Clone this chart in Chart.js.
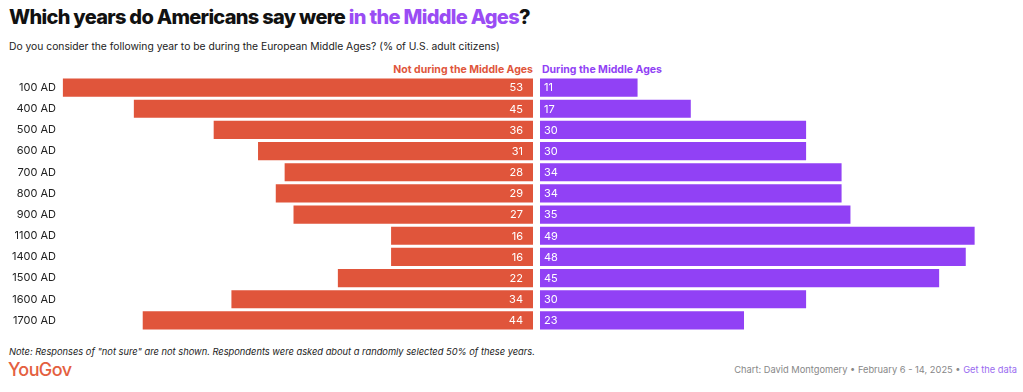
<!DOCTYPE html>
<html>
<head>
<meta charset="utf-8">
<script src="https://cdn.jsdelivr.net/npm/chart.js@4"></script>
<style>
  body { margin: 0; background: #fff; font-family: Inter, "Noto Sans", sans-serif; width: 1023px; height: 392px; overflow: hidden; position: relative; }
  .abs { position: absolute; white-space: nowrap; }
  #title { left: 9px; top: 5px; font-size: 20px; font-weight: 800; color: #111; letter-spacing: -0.7px; }
  #title span { color: #9a4cf4; }
  #sub { left: 9px; top: 40px; font-size: 10.3px; color: #222; }
  #hdrL { right: 490px; top: 63px; font-size: 10.5px; font-weight: 700; color: #e0553b; }
  #hdrR { left: 542px; top: 63px; font-size: 10.5px; font-weight: 700; color: #9141f5; }
  #note { left: 9px; top: 346px; font-size: 9.3px; font-style: italic; color: #222; }
  #logo { left: 8px; top: 359px; font-size: 18px; font-weight: 500; color: #e4603f; letter-spacing: -0.6px; }
  #credit { right: 6px; top: 364px; font-size: 9.3px; color: #888; }
  #credit a { color: #9a6cf0; text-decoration: none; }
  #wrapL { left: 0; top: 77px; width: 533px; height: 254px; }
  #wrapR { left: 540px; top: 77px; width: 483px; height: 254px; }
</style>
</head>
<body>
<div class="abs" id="title">Which years do Americans say were <span>in the Middle Ages</span>?</div>
<div class="abs" id="sub">Do you consider the following year to be during the European Middle Ages? (% of U.S. adult citizens)</div>
<div class="abs" id="hdrL">Not during the Middle Ages</div>
<div class="abs" id="hdrR">During the Middle Ages</div>
<div class="abs" id="wrapL"><canvas id="left"></canvas></div>
<div class="abs" id="wrapR"><canvas id="right"></canvas></div>
<div class="abs" id="note">Note: Responses of "not sure" are not shown. Respondents were asked about a randomly selected 50% of these years.</div>
<div class="abs" id="logo">YouGov</div>
<div class="abs" id="credit">Chart: David Montgomery • February 6 - 14, 2025 • <a>Get the data</a></div>

<script>
const years = ['100 AD', '400 AD', '500 AD', '600 AD', '700 AD', '800 AD', '900 AD', '1100 AD', '1400 AD', '1500 AD', '1600 AD', '1700 AD'];
const notDuring = [53, 45, 36, 31, 28, 29, 27, 16, 16, 22, 34, 44];
const during = [11, 17, 30, 30, 34, 34, 35, 49, 48, 45, 30, 23];

const RED = '#e0553b';
const PURPLE = '#9141f5';
const PX_PER_UNIT = 8.87;

// white value labels inside the bars
const valueLabels = {
  id: 'valueLabels',
  afterDatasetsDraw(chart, args, opts) {
    const ctx = chart.ctx;
    const meta = chart.getDatasetMeta(0);
    ctx.save();
    ctx.font = '11px Inter, "Noto Sans", sans-serif';
    ctx.fillStyle = '#fff';
    ctx.textBaseline = 'middle';
    ctx.textAlign = opts.side === 'left' ? 'right' : 'left';
    meta.data.forEach((bar, i) => {
      const v = chart.data.datasets[0].data[i];
      const x = opts.side === 'left' ? bar.base - 10 : bar.base + 4;
      ctx.fillText(v, x, bar.y + 0.5);
    });
    ctx.restore();
  }
};

function makeChart(id, data, color, side) {
  const isLeft = side === 'left';
  const width = isLeft ? 533 - 61 : 483;
  return new Chart(document.getElementById(id), {
    type: 'bar',
    data: {
      labels: years,
      datasets: [{
        data: data,
        backgroundColor: color,
        borderWidth: 0,
        barPercentage: 0.86,
        categoryPercentage: 1
      }]
    },
    options: {
      indexAxis: 'y',
      responsive: true,
      maintainAspectRatio: false,
      animation: false,
      layout: { padding: 0 },
      plugins: {
        legend: { display: false },
        tooltip: { enabled: false },
        valueLabels: { side: side }
      },
      scales: {
        x: {
          display: false,
          reverse: isLeft,
          min: 0,
          max: width / PX_PER_UNIT
        },
        y: {
          display: isLeft,
          grid: { display: false, drawTicks: false },
          border: { display: false },
          ticks: {
            color: '#222',
            padding: 5,
            font: { size: 11, family: 'Inter, "Noto Sans", sans-serif' }
          },
          afterFit(scale) {
            if (!isLeft) return;
            scale.width = 61;
            scale.paddingTop = 0;
            scale.paddingBottom = 0;
          }
        }
      }
    },
    plugins: [valueLabels]
  });
}

makeChart('left', notDuring, RED, 'left');
makeChart('right', during, PURPLE, 'right');
</script>
</body>
</html>
